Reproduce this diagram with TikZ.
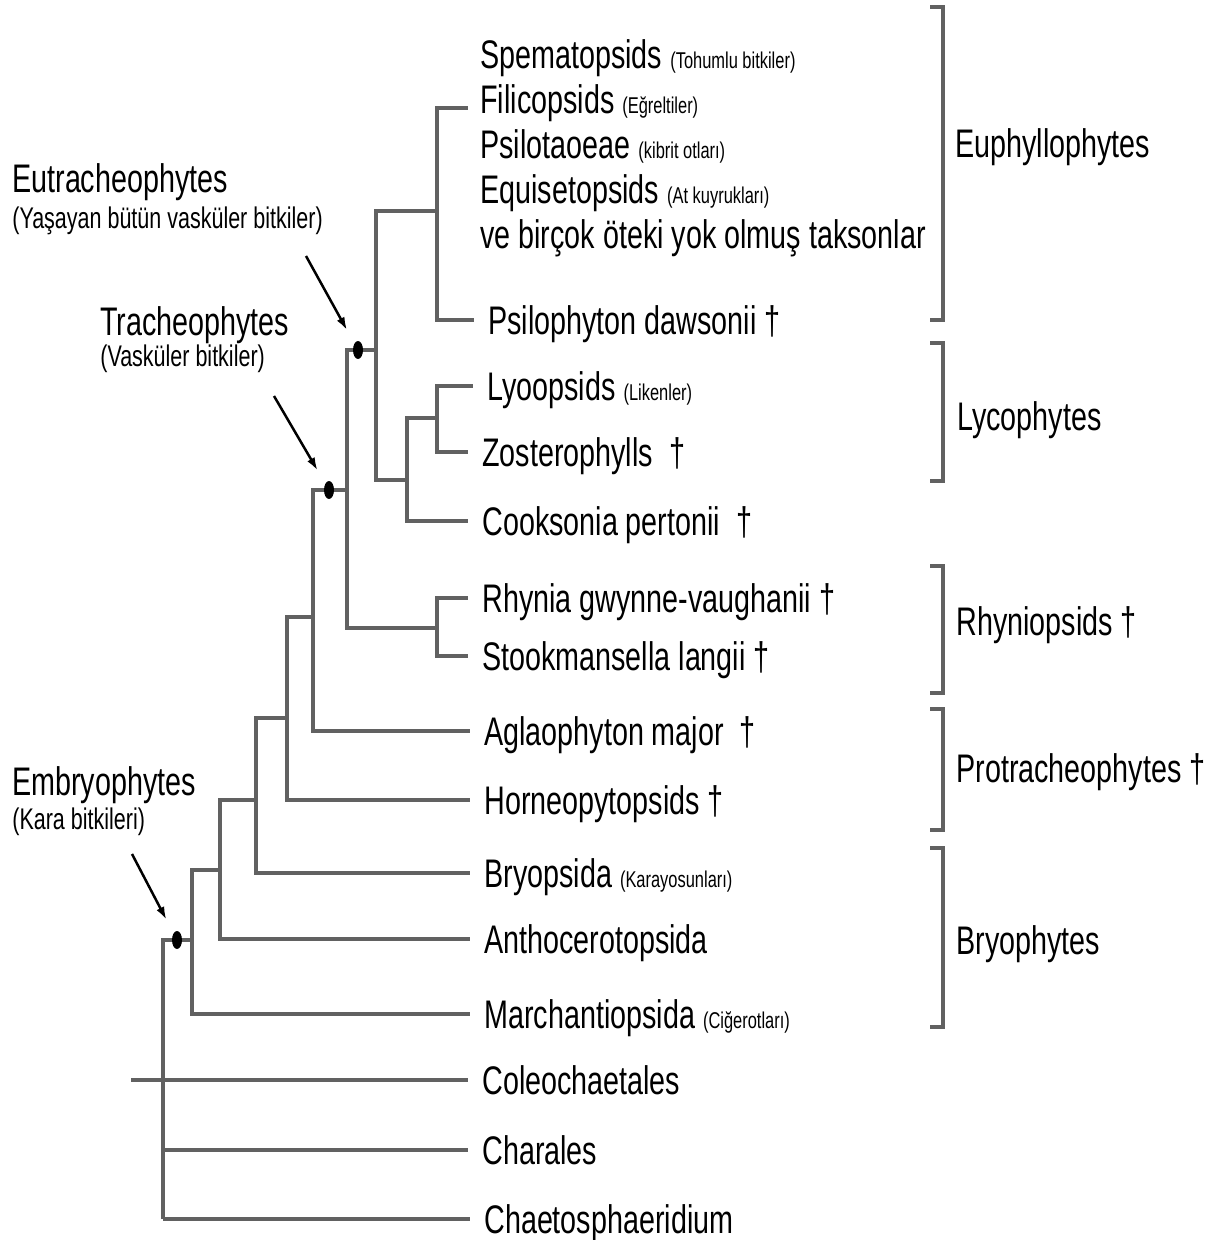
\documentclass[tikz,border=0pt]{standalone}
\usepackage{fontspec}
\setmainfont[FakeStretch=0.72]{Liberation Sans}
\usepackage{tikz}
\usetikzlibrary{arrows.meta,shapes.geometric,positioning}

\newcommand{\taxfont}{\fontsize{22.7}{26}\selectfont}
\newcommand{\subfont}{\fontsize{17}{19}\selectfont}
\newcommand{\notefont}{\fontsize{13}{15}\selectfont}

\begin{document}
\begin{tikzpicture}[
  x=0.02cm, y=-0.02cm,
  every node/.style={font=\taxfont, text=black},
  leaf/.style={anchor=west, inner xsep=0.28cm, inner ysep=0pt, text height=0.57cm, text depth=0pt},
  clade/.style={anchor=west, inner sep=0pt, text height=0.57cm, text depth=0pt},
  cladesub/.style={anchor=west, inner sep=0pt, font=\subfont, text height=0.43cm, text depth=0pt},
  dot/.style={ellipse, fill=black, inner sep=0pt, minimum width=0.2cm, minimum height=0.36cm},
  branch/.style={draw=black!62, line width=0.065cm},
  arr/.style={-{Latex[length=0.26cm,width=0.17cm]}, line width=0.05cm, shorten >=0.3cm},
]
\useasboundingbox (0,0) rectangle (1227,1240);

\node[leaf] (sperm) at (466,54) {Spematopsids {\notefont (Tohumlu bitkiler)}};
\node[leaf] (filic) at (466,99) {Filicopsids {\notefont (Eğreltiler)}};
\node[leaf] (psilot) at (466,144) {Psilotaoeae {\notefont (kibrit otları)}};
\node[leaf] (equis) at (466,189) {Equisetopsids {\notefont (At kuyrukları)}};
\node[leaf] (extinct) at (466,234) {ve birçok öteki yok olmuş taksonlar};
\node[leaf] (psilo) at (474,320) {Psilophyton dawsonii †};
\node[leaf] (lyco) at (473,386) {Lyoopsids {\notefont (Likenler)}};
\node[leaf] (zost) at (468,452) {Zosterophylls \ †};
\node[leaf] (cook) at (468,521) {Cooksonia pertonii \ †};
\node[leaf] (rhyn) at (468,598) {Rhynia gwynne-vaughanii †};
\node[leaf] (stook) at (468,656) {Stookmansella langii †};
\node[leaf] (aglao) at (470,731) {Aglaophyton major \ †};
\node[leaf] (horne) at (470,800) {Horneopytopsids †};
\node[leaf] (bryop) at (470,873) {Bryopsida {\notefont (Karayosunları)}};
\node[leaf] (antho) at (470,939) {Anthocerotopsida};
\node[leaf] (march) at (470,1014) {Marchantiopsida {\notefont (Ciğerotları)}};
\node[leaf] (coleo) at (468,1080) {Coleochaetales};
\node[leaf] (chara) at (468,1150) {Charales};
\node[leaf] (chaeto) at (470,1219) {Chaetosphaeridium};

\node[clade] (euphyl) at (955,143) {Euphyllophytes};
\node[clade] (lycoph) at (957,416) {Lycophytes};
\node[clade] (rhyniop) at (956,621) {Rhyniopsids †};
\node[clade] (protra) at (956,768) {Protracheophytes †};
\node[clade] (bryoph) at (956,940) {Bryophytes};

\node[clade] (eutralab) at (12,178) {Eutracheophytes};
\node[cladesub] (eutrasub) at (12,218) {(Yaşayan bütün vasküler bitkiler)};
\node[clade] (trachlab) at (100,321) {Tracheophytes};
\node[cladesub] (trachsub) at (100,356) {(Vasküler bitkiler)};
\node[clade] (embrlab) at (12,781) {Embryophytes};
\node[cladesub] (embrsub) at (12,819) {(Kara bitkileri)};

\coordinate (eupend) at (468,108);
\coordinate (eup) at (437,211);
\coordinate (lyc) at (437,418);
\coordinate (lycc) at (407,480);
\coordinate (eutr) at (376,350);
\coordinate (rhy) at (437,628);
\coordinate (trach) at (347,490);
\coordinate (agl) at (313,617);
\coordinate (horn) at (287,718);
\coordinate (bry) at (256,800);
\coordinate (anth) at (220,870);
\coordinate (emb) at (192,940);
\coordinate (root) at (163,1219);
\coordinate (coleoend) at (131,1080);

\draw[branch] (eup) |- (eupend);
\draw[branch] (eup) |- (psilo.west);
\draw[branch] (lyc) |- (lyco.west);
\draw[branch] (lyc) |- (zost.west);
\draw[branch] (lycc) |- (lyc);
\draw[branch] (lycc) |- (cook.west);
\draw[branch] (eutr) |- (eup);
\draw[branch] (eutr) |- (lycc);
\draw[branch] (rhy) |- (rhyn.west);
\draw[branch] (rhy) |- (stook.west);
\draw[branch] (trach) |- (eutr);
\draw[branch] (trach) |- (rhy);
\draw[branch] (agl) |- (trach);
\draw[branch] (agl) |- (aglao.west);
\draw[branch] (horn) |- (agl);
\draw[branch] (horn) |- (horne.west);
\draw[branch] (bry) |- (horn);
\draw[branch] (bry) |- (bryop.west);
\draw[branch] (anth) |- (bry);
\draw[branch] (anth) |- (antho.west);
\draw[branch] (emb) |- (anth);
\draw[branch] (emb) |- (march.west);
\draw[branch] (root) |- (emb);
\draw[branch] (root) -- (chaeto.west);
\draw[branch] (root |- chara.west) -- (chara.west);
\draw[branch] (coleoend) -- (coleo.west);

\draw[branch] (930,7) -- (943,7) -- (943,320) -- (930,320);
\draw[branch] (930,343) -- (943,343) -- (943,481) -- (930,481);
\draw[branch] (930,566) -- (943,566) -- (943,693) -- (930,693);
\draw[branch] (930,709) -- (943,709) -- (943,830) -- (930,830);
\draw[branch] (930,848) -- (943,848) -- (943,1027) -- (930,1027);

\node[dot] (eutrdot) at (358,350) {};
\node[dot] (trachdot) at (329,490) {};
\node[dot] (embrdot) at (177,940) {};

\coordinate (eutrarr) at (306,256);
\coordinate (tracharr) at (274,396);
\coordinate (embrarr) at (132,854);
\draw[arr] (eutrarr) -- (eutrdot);
\draw[arr] (tracharr) -- (trachdot);
\draw[arr] (embrarr) -- (embrdot);

\end{tikzpicture}
\end{document}
